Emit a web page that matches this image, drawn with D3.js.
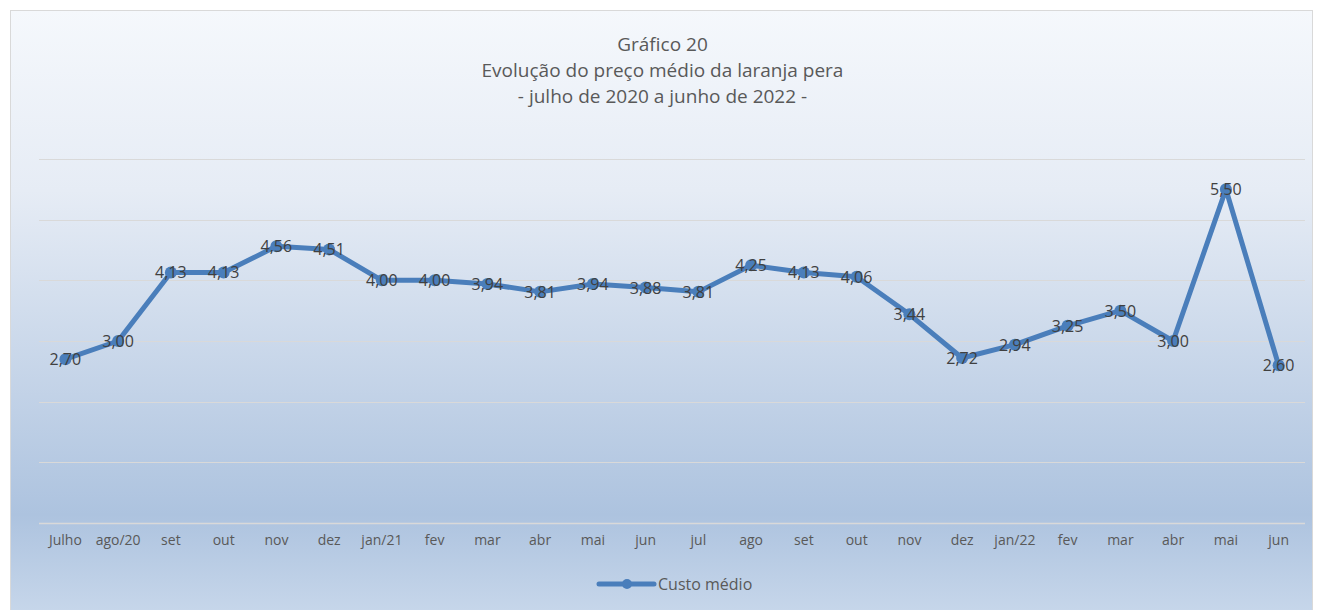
<!DOCTYPE html>
<html>
<head>
<meta charset="utf-8">
<script src="https://cdn.jsdelivr.net/npm/d3@7"></script>
<style>
  html, body { margin: 0; padding: 0; background: #fff; }
  svg { display: block; font-family: "Open Sans", "Noto Sans", sans-serif; }
</style>
</head>
<body>
<svg id="chart" width="1323" height="610"></svg>
<script>
// --- data ---
const months = ["Julho", "ago/20", "set", "out", "nov", "dez", "jan/21", "fev", "mar", "abr", "mai", "jun",
                "jul", "ago", "set", "out", "nov", "dez", "jan/22", "fev", "mar", "abr", "mai", "jun"];
const custoMedio = [2.70, 3.00, 4.13, 4.13, 4.56, 4.51, 4.00, 4.00, 3.94, 3.81, 3.94, 3.88,
                    3.81, 4.25, 4.13, 4.06, 3.44, 2.72, 2.94, 3.25, 3.50, 3.00, 5.50, 2.60];
const yTicks = [0, 1, 2, 3, 4, 5, 6];
const titleLines = ["Gráfico 20", "Evolução do preço médio da laranja pera", "- julho de 2020 a junho de 2022 -"];
const seriesName = "Custo médio";

const svg = d3.select("#chart");
const W = 1323, H = 610;
const lineColor = "#4a7ebb";

// --- background gradient ---
const defs = svg.append("defs");
const grad = defs.append("linearGradient")
    .attr("id", "bg").attr("x1", 0).attr("y1", 0).attr("x2", 0).attr("y2", 1);
grad.append("stop").attr("offset", "0%").attr("stop-color", "#f5f8fc");
grad.append("stop").attr("offset", "30%").attr("stop-color", "#e6ecf5");
grad.append("stop").attr("offset", "84%").attr("stop-color", "#adc3df");
grad.append("stop").attr("offset", "100%").attr("stop-color", "#c6d6ea");

svg.append("rect")
    .attr("x", 10.5).attr("y", 10.5)
    .attr("width", W - 21).attr("height", H - 10)
    .attr("fill", "url(#bg)")
    .attr("stroke", "#d9d9d9")
    .attr("stroke-width", 1);

// --- scales ---
const x = d3.scaleBand()
    .domain(d3.range(months.length))
    .range([39, 1305]);
const y = d3.scaleLinear().domain([0, 6]).range([523, 159]);

// --- gridlines ---
svg.append("g").selectAll("line")
    .data(yTicks)
    .join("line")
    .attr("x1", 39).attr("x2", 1305)
    .attr("y1", d => Math.round(y(d)) + 0.5)
    .attr("y2", d => Math.round(y(d)) + 0.5)
    .attr("stroke", "#d9d9d9")
    .attr("stroke-width", d => d === 0 ? 1.5 : 1);

// --- x axis labels ---
const xAxis = svg.append("g")
    .attr("transform", "translate(0,523)")
    .call(d3.axisBottom(x).tickSize(0).tickPadding(12).tickFormat(i => months[i]));
xAxis.select(".domain").remove();
xAxis.selectAll("text")
    .attr("fill", "#595959")
    .style("font-size", "14px")
    .style("font-family", "\"Open Sans\", \"Noto Sans\", sans-serif");

// --- title ---
svg.append("g").selectAll("text")
    .data(titleLines)
    .join("text")
    .attr("x", W / 2 + 1)
    .attr("y", (d, i) => 51 + i * 26)
    .attr("text-anchor", "middle")
    .attr("fill", "#595959")
    .attr("font-size", "19px")
    .text(d => d);

// --- line ---
const cx = i => x(i) + x.bandwidth() / 2;
const line = d3.line()
    .x((d, i) => cx(i))
    .y(d => y(d));

svg.append("path")
    .datum(custoMedio)
    .attr("fill", "none")
    .attr("stroke", lineColor)
    .attr("stroke-width", 5)
    .attr("stroke-linejoin", "round")
    .attr("d", line);

svg.append("g").selectAll("circle")
    .data(custoMedio)
    .join("circle")
    .attr("cx", (d, i) => cx(i))
    .attr("cy", d => y(d))
    .attr("r", 6)
    .attr("fill", lineColor);

// --- data labels ---
const fmt = v => v.toFixed(2).replace(".", ",");
svg.append("g").selectAll("text")
    .data(custoMedio)
    .join("text")
    .attr("x", (d, i) => cx(i))
    .attr("y", d => y(d) + 6)
    .attr("text-anchor", "middle")
    .attr("fill", "#404040")
    .attr("font-size", "16px")
    .text(fmt);

// --- legend ---
const lg = svg.append("g").attr("transform", "translate(599,584)");
lg.append("line")
    .attr("x1", 0).attr("x2", 55).attr("y1", 0).attr("y2", 0)
    .attr("stroke", lineColor).attr("stroke-width", 5).attr("stroke-linecap", "round");
lg.append("circle").attr("cx", 28).attr("cy", 0).attr("r", 5).attr("fill", lineColor);
lg.append("text")
    .attr("x", 59).attr("y", 6)
    .attr("fill", "#595959")
    .attr("font-size", "16px")
    .text(seriesName);
</script>
</body>
</html>
